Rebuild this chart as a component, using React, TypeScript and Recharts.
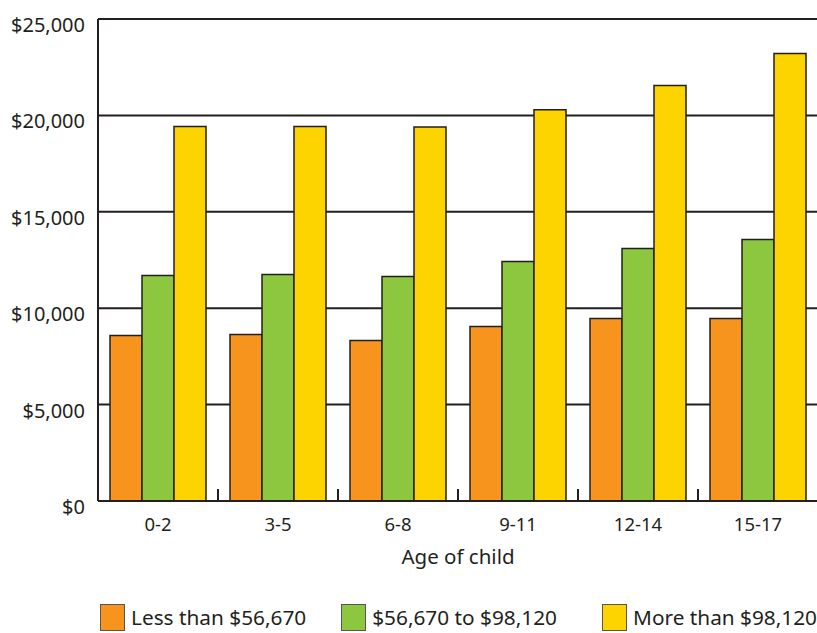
import React from 'react';
import { BarChart, Bar, XAxis, YAxis, CartesianGrid, Legend, Label } from 'recharts';

const ages = ['0-2', '3-5', '6-8', '9-11', '12-14', '15-17'];
const lowIncome = [8580, 8630, 8330, 9050, 9470, 9470];
const midIncome = [11700, 11750, 11640, 12420, 13100, 13560];
const highIncome = [19420, 19420, 19400, 20290, 21550, 23210];
const yTicks = [0, 5000, 10000, 15000, 20000, 25000];

const seriesNames = ['Less than $56,670', '$56,670 to $98,120', 'More than $98,120'];
const colors = ['#F7941E', '#8DC63F', '#FDD300'];

const data = ages.map((age, i) => ({
  age,
  low: lowIncome[i],
  mid: midIncome[i],
  high: highIncome[i],
}));

const ink = '#231f20';
const font = '"Noto Sans", sans-serif';

function YTick({ x, y, payload }: any) {
  return (
    <text x={x - 11} y={y + 13} textAnchor="end" fill={ink} fontSize={20} fontFamily={font}>
      ${payload.value.toLocaleString('en-US')}
    </text>
  );
}

function XTick({ x, y, payload }: any) {
  const off = payload.offset ?? 60;
  return (
    <g>
      {payload.index > 0 && (
        <line x1={x - off} x2={x - off} y1={y} y2={y - 12} stroke={ink} strokeWidth={2} />
      )}
      <text x={x} y={y + 30} textAnchor="middle" fill={ink} fontSize={18.5} fontFamily={font}>
        {payload.value}
      </text>
    </g>
  );
}

function LegendBox() {
  const gaps = [35, 45, 0];
  return (
    <div style={{ position: 'relative', top: 4, display: 'flex', alignItems: 'center', paddingLeft: 100, fontFamily: font, fontSize: 20.8, color: ink, height: 40 }}>
      {seriesNames.map((name, i) => (
        <div key={name} style={{ display: 'flex', alignItems: 'center', marginRight: gaps[i], whiteSpace: 'nowrap' }}>
          <span style={{ display: 'inline-block', width: 23, height: 25, background: colors[i], border: '1px solid #555', marginRight: 6 }} />
          <span>{name}</span>
        </div>
      ))}
    </div>
  );
}

export default function App() {
  return (
    <div style={{ position: 'absolute', left: 0, top: 0, width: 817, height: 633, overflow: 'hidden', background: '#fff' }}>
      <BarChart
        width={830}
        height={633}
        data={data}
        margin={{ top: 19, right: 12, bottom: 0, left: 0 }}
        barCategoryGap={12}
        barGap={0}
      >
        <CartesianGrid vertical={false} stroke={ink} strokeWidth={2} strokeOpacity={1} />
        <XAxis
          dataKey="age"
          axisLine={{ stroke: ink, strokeWidth: 2 }}
          tickLine={false}
          tickSize={0}
          tickMargin={0}
          tick={<XTick />}
          height={92}
          interval={0}
        >
          <Label value="Age of child" position="insideTop" offset={48} fill={ink} fontSize={20.5} fontFamily={font} />
        </XAxis>
        <YAxis
          domain={[0, 25000]}
          ticks={yTicks}
          width={98}
          axisLine={{ stroke: ink, strokeWidth: 2 }}
          tickLine={false}
          tickSize={0}
          tick={<YTick />}
          interval={0}
        />
        <Legend verticalAlign="bottom" content={<LegendBox />} />
        <Bar dataKey="low" name={seriesNames[0]} fill={colors[0]} stroke={ink} strokeWidth={1.5} isAnimationActive={false} />
        <Bar dataKey="mid" name={seriesNames[1]} fill={colors[1]} stroke={ink} strokeWidth={1.5} isAnimationActive={false} />
        <Bar dataKey="high" name={seriesNames[2]} fill={colors[2]} stroke={ink} strokeWidth={1.5} isAnimationActive={false} />
      </BarChart>
    </div>
  );
}
